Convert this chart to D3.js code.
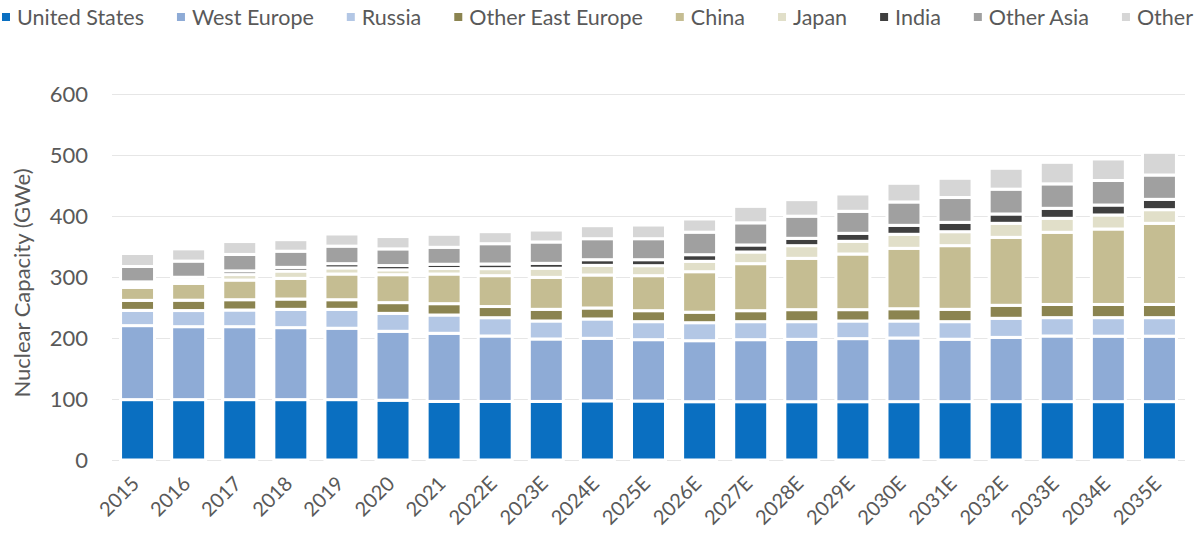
<!DOCTYPE html>
<html>
<head>
<meta charset="utf-8">
<script src="https://cdn.jsdelivr.net/npm/d3@7"></script>
<style>
  html, body { margin: 0; padding: 0; background: #ffffff; }
  svg { display: block; }
  text { font-family: Lato, "Open Sans", sans-serif; fill: #595959; }
</style>
</head>
<body>
<svg id="chart" width="1203" height="533"></svg>
<script>
// Nuclear generating capacity by region, GWe
const years = ["2015","2016","2017","2018","2019","2020","2021","2022E","2023E","2024E","2025E",
               "2026E","2027E","2028E","2029E","2030E","2031E","2032E","2033E","2034E","2035E"];

const regions = ["United States","West Europe","Russia","Other East Europe","China","Japan","India","Other Asia","Other"];
const regionColors = ["#0a6fc1","#8eabd6","#b3c7e5","#8b8450","#c5bd92","#e1dfc9","#3f3f3f","#a0a0a0","#d6d6d6"];

const unitedStates    = [99, 99, 99, 99, 99, 98, 96, 96, 96, 97, 96.7, 95.6, 95.6, 95.6, 95.6, 95.7, 95.7, 95.7, 95.7, 95.7, 95.7];
const westEurope      = [121.3, 119.6, 119.6, 118, 117, 113, 111.7, 107.3, 102.4, 102.5, 100.6, 100, 101.7, 102.2, 103.4, 104.3, 102.3, 105.3, 107.6, 107.3, 107.3];
const russia          = [25, 26.4, 27.3, 30, 31, 29.4, 30, 30, 29.5, 31.7, 29.5, 29.5, 29.5, 29, 28.9, 27.9, 28.8, 31.3, 30.1, 30.4, 30.4];
const otherEastEurope = [16.4, 17, 16.9, 16.9, 15.8, 17.6, 18.6, 18.3, 19.1, 18, 18, 17.2, 18, 19.7, 18.6, 20.1, 20.2, 21.3, 21.6, 21.6, 21.6];
const china           = [21.3, 27.6, 32.2, 33.9, 42.1, 45.8, 48.6, 50.6, 52.4, 54.1, 57.4, 66.4, 77.1, 84.1, 91.2, 99, 104.4, 111.4, 118.3, 123.7, 133];
const japan           = [5, 5, 9, 12, 10, 8, 9, 11.5, 15, 15.8, 16.4, 17, 19.1, 20.8, 20.8, 23, 22.9, 23, 22.9, 23, 22.4];
const india           = [4, 5, 6, 6, 7, 7, 7, 7.6, 8, 9.3, 9.8, 10.9, 11.5, 12, 13.1, 14.7, 15.3, 15.3, 16.4, 16.3, 16.9];
const otherAsia       = [25.2, 26.5, 27, 26.5, 28.7, 27.3, 27.8, 33.3, 35, 34.4, 34.4, 36.9, 36.3, 36.3, 36.1, 38.3, 40.7, 40.7, 40.1, 40.2, 39.9];
const other           = [21.3, 20, 21.1, 18.9, 19.9, 20.2, 21.3, 19.7, 19.6, 21.3, 22.4, 21.6, 27, 27.1, 28.4, 30.6, 31.5, 34.2, 35.3, 35.3, 37.2];

const yTicks = [0, 100, 200, 300, 400, 500, 600];
const yTitle = "Nuclear Capacity (GWe)";

const seriesValues = [unitedStates, westEurope, russia, otherEastEurope, china, japan, india, otherAsia, other];

// Rows for the stack layout
const rows = years.map((yr, i) => {
  const row = { year: yr };
  regions.forEach((r, k) => { row[r] = seriesValues[k][i]; });
  return row;
});

const svg = d3.select("#chart");
const margin = { left: 112, right: 18, top: 94, bottom: 73 };
const W = +svg.attr("width"), H = +svg.attr("height");

const x = d3.scaleBand().domain(years).range([margin.left, W - margin.right])
  .paddingInner(0.335).paddingOuter(0.1675);
const y = d3.scaleLinear().domain([0, 600]).range([H - margin.bottom, margin.top]);
const color = d3.scaleOrdinal().domain(regions).range(regionColors);

// Horizontal gridlines
svg.append("g").selectAll("line").data(yTicks).join("line")
  .attr("x1", margin.left).attr("x2", W - margin.right)
  .attr("y1", d => Math.round(y(d)) + 0.5).attr("y2", d => Math.round(y(d)) + 0.5)
  .attr("stroke", "#e6e6e6").attr("stroke-width", 1);

// Y axis labels
const yAxis = d3.axisLeft(y).tickValues(yTicks).tickSize(0).tickPadding(0);
const gy = svg.append("g").attr("transform", `translate(${margin.left - 24},0)`).call(yAxis);
gy.select(".domain").remove();
gy.selectAll("text").style("font-size", "22px").attr("fill", "#595959")
  .style("font-family", "Lato, sans-serif");

// Y axis title
svg.append("text")
  .attr("transform", `translate(22,${(y(0) + y(600)) / 2 + 6}) rotate(-90)`)
  .attr("text-anchor", "middle").attr("dy", "0.35em")
  .style("font-size", "22px").text(yTitle);

// Stacked bars
const stack = d3.stack().keys(regions);
const layers = stack(rows);
svg.append("g").selectAll("g").data(layers).join("g")
  .attr("fill", d => color(d.key))
  .selectAll("rect").data(d => d).join("rect")
  .attr("x", d => x(d.data.year))
  .attr("width", x.bandwidth())
  .attr("y", d => y(d[1]))
  .attr("height", d => y(d[0]) - y(d[1]))
  .attr("stroke", "#ffffff").attr("stroke-width", 3);

// X axis labels, rotated
const xAxis = d3.axisBottom(x).tickSize(0).tickPadding(0);
const gx = svg.append("g").attr("transform", `translate(0,${y(0)})`).call(xAxis);
gx.select(".domain").remove();
gx.selectAll("text")
  .style("font-size", "20px").style("font-family", "Lato, sans-serif").attr("fill", "#595959")
  .attr("text-anchor", "end")
  .attr("dy", "0.35em").attr("y", 0)
  .attr("transform", "translate(-2,20) rotate(-45)");

// Legend across the top
const legend = svg.append("g").attr("transform", "translate(2,17)");
let cursor = 0;
regions.forEach((r, k) => {
  const item = legend.append("g").attr("transform", `translate(${cursor},0)`);
  item.append("rect").attr("x", 0).attr("y", -4).attr("width", 8).attr("height", 8).attr("fill", regionColors[k]);
  const t = item.append("text").attr("x", 15).attr("dy", "0.35em").style("font-size", "21.5px").text(r);
  cursor += 15 + t.node().getComputedTextLength() + 33;
});
</script>
</body>
</html>
